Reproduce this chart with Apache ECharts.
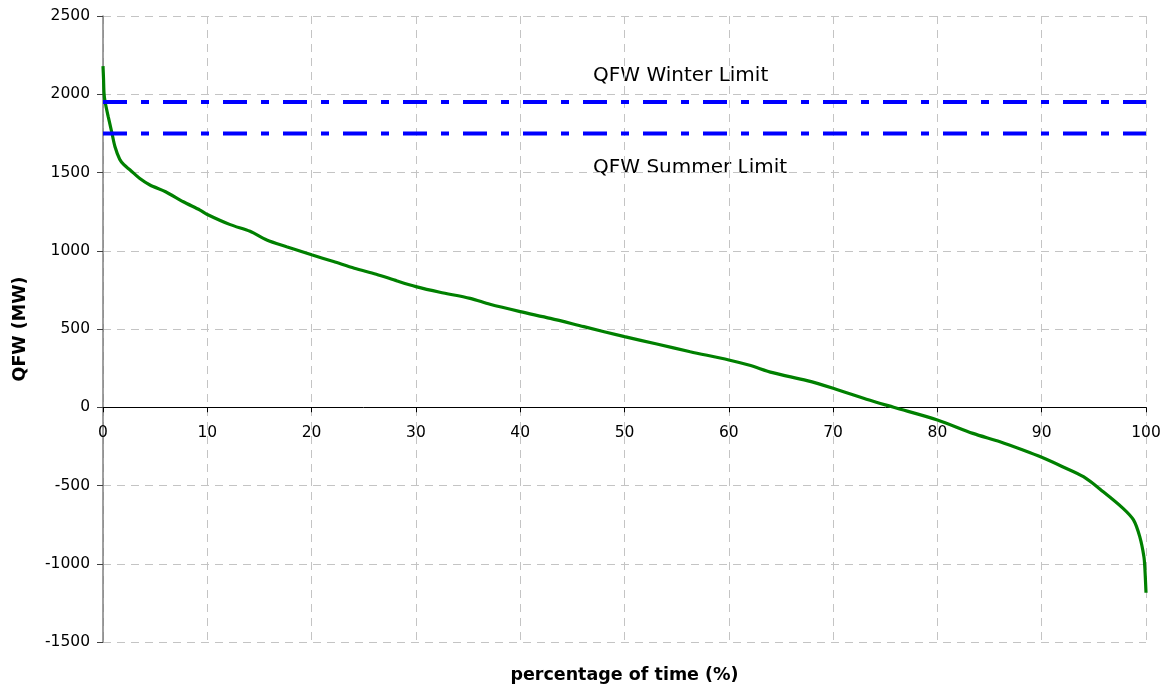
<!DOCTYPE html>
<html>
<head>
<meta charset="utf-8">
<script src="https://cdn.jsdelivr.net/npm/echarts@6/dist/echarts.min.js"></script>
<style>
html,body{margin:0;padding:0;background:#fff;}
#chart{width:1169px;height:692px;}
</style>
</head>
<body>
<div id="chart"></div>
<script>
// percentage of time (%)
var timePct = [0, 0.05, 0.1, 0.2, 0.5, 0.85, 1.15, 1.6, 2.0, 2.6, 3.5, 4.5, 6, 7.7, 9.3, 10, 12.2, 14.1, 15.7, 17.6, 20, 22.1, 24.1, 26.2, 28.2, 30, 32.3, 35.2, 37.1, 40, 42.9, 46.1, 50, 53.1, 56.3, 60, 62, 64.2, 67.5, 70, 73.2, 75.8, 80, 83.4, 86, 88.2, 90, 92, 94, 95.9, 97.8, 98.8, 99.4, 99.8, 99.9, 100];
// QFW flow (MW)
var qfwMW = [2180, 2100, 2006, 1952, 1857, 1754, 1665, 1585, 1550, 1516, 1463, 1420, 1377, 1313, 1260, 1232, 1167, 1124, 1069, 1026, 974, 931, 888, 850, 807, 771, 735, 696, 658, 611, 568, 515, 451, 404, 355, 302, 268, 221, 170, 121, 51, 0, -81, -167, -220, -273, -320, -380, -444, -540, -646, -720, -827, -955, -1040, -1185];
// limits (MW)
var winterLimit = 1950;
var summerLimit = 1750;
var limitSpan = [0, 100];
var yTicks = [-1500, 2500, 500];
var xTicks = [0, 100, 10];
var labels = {
  winter: 'QFW Winter Limit',
  summer: 'QFW Summer Limit',
  xName: 'percentage of time (%)',
  yName: 'QFW (MW)'
};

var curve = timePct.map(function (p, i) { return [p, qfwMW[i]]; });
var winterLine = limitSpan.map(function (p) { return [p, winterLimit]; });
var summerLine = limitSpan.map(function (p) { return [p, summerLimit]; });

var FONT = 'DejaVu Sans';
var chart = echarts.init(document.getElementById('chart'), null, {renderer: 'canvas'});
var gridTop = 16, gridBottom = 50, H = 692;
var plotH = H - gridTop - gridBottom;
// distance from bottom of plot to the zero line (axis crosses at 0)
var zeroOffset = plotH * (0 - yTicks[0]) / (yTicks[1] - yTicks[0]);
var splitDash = {show: true, lineStyle: {color: '#c4c4c4', type: [8, 6], width: 1}};
var plain = function (v) { return String(v); };

chart.setOption({
  animation: false,
  backgroundColor: '#ffffff',
  grid: {left: 103, right: 23, top: gridTop, bottom: gridBottom, containLabel: false},
  xAxis: {
    type: 'value', position: 'bottom',
    min: xTicks[0], max: xTicks[1], interval: xTicks[2],
    offset: -zeroOffset,
    axisLine: {show: true, onZero: false, lineStyle: {color: '#000', width: 1}},
    axisTick: {show: true, length: 5, lineStyle: {color: '#000'}},
    axisLabel: {color: '#000', fontFamily: FONT, fontSize: 15.5, margin: 18, formatter: plain},
    splitLine: splitDash
  },
  yAxis: {
    type: 'value',
    min: yTicks[0], max: yTicks[1], interval: yTicks[2],
    axisLine: {show: true, onZero: false, lineStyle: {color: '#808080', width: 1.5}},
    axisTick: {show: true, length: 6, lineStyle: {color: '#404040'}},
    axisLabel: {color: '#000', fontFamily: FONT, fontSize: 15.5, margin: 13, formatter: plain},
    splitLine: splitDash
  },
  series: [
    {
      type: 'line', data: curve, showSymbol: false, symbol: 'none',
      smooth: 0.3,
      lineStyle: {color: '#008000', width: 3.2}, z: 3
    },
    {
      type: 'line', data: winterLine, showSymbol: false, symbol: 'none',
      lineStyle: {color: '#0000ff', width: 4, type: [24, 14, 8, 14], cap: 'butt'}, z: 4
    },
    {
      type: 'line', data: summerLine, showSymbol: false, symbol: 'none',
      lineStyle: {color: '#0000ff', width: 4, type: [24, 14, 8, 14], cap: 'butt'}, z: 4
    }
  ],
  graphic: [
    {type: 'text', x: 593, y: 76, style: {text: labels.winter, fill: '#000', font: '20px "DejaVu Sans"', textAlign: 'left', textVerticalAlign: 'middle'}},
    {type: 'text', x: 593, y: 168, style: {text: labels.summer, fill: '#000', font: '20px "DejaVu Sans"', textAlign: 'left', textVerticalAlign: 'middle'}},
    {type: 'text', x: 624.5, y: 675, style: {text: labels.xName, fill: '#000', font: 'bold 17.5px "DejaVu Sans"', textAlign: 'center', textVerticalAlign: 'middle'}},
    {type: 'text', x: 20, y: 329, rotation: Math.PI / 2, style: {text: labels.yName, fill: '#000', font: 'bold 17.5px "DejaVu Sans"', textAlign: 'center', textVerticalAlign: 'middle'}}
  ]
});
</script>
</body>
</html>
